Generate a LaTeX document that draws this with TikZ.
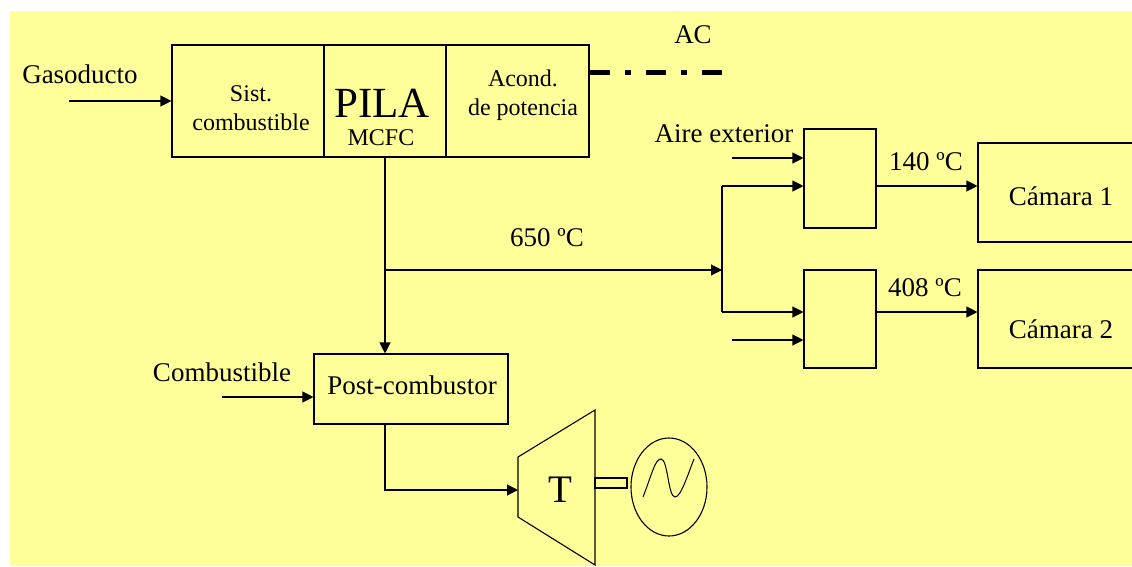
\documentclass[tikz,border=0pt]{standalone}
\usepackage{fontspec}
\setmainfont{Liberation Serif}
\usetikzlibrary{arrows.meta,shapes.geometric}
\definecolor{bgyellow}{RGB}{255,255,153}
\begin{document}
\begin{tikzpicture}[x=1pt,y=-1pt,
  box/.style={draw=black,line width=1.1pt,inner sep=0pt},
  conn/.style={line width=1.1pt,-{Triangle[length=11pt,width=11pt]}},
  wire/.style={line width=1.1pt},
  lbl/.style={anchor=base,inner sep=0pt,font=\fontsize{27}{32}\selectfont},
  slbl/.style={anchor=base,inner sep=0pt,font=\fontsize{24}{29}\selectfont}]
\useasboundingbox (0,0) rectangle (1132,566);
\clip (0,0) rectangle (1132,566);
\fill[white] (0,0) rectangle (1132,566);
\fill[bgyellow] (10,11) rectangle (1132,566);

% main stack
\node[box,minimum width=152pt,minimum height=112pt] (sist) at (248,101) {};
\node[box,minimum width=122pt,minimum height=112pt] (pila) at (385,101) {};
\node[box,minimum width=143pt,minimum height=112pt] (acond) at (517.5,101) {};
\node[slbl] (t1) at (251,101) {Sist.};
\node[slbl] (t2) at (251,130) {combustible};
\node[anchor=base,inner sep=0pt,font=\fontsize{43}{50}\selectfont] (t3) at (382,117) {PILA};
\node[slbl] (t4) at (381,145) {MCFC};
\node[slbl] (t5) at (523,86) {Acond.};
\node[slbl] (t6) at (523,115) {de potencia};

% gas input
\coordinate (gasin) at (69,101);
\draw[conn] (gasin) -- (sist.west);
\node[lbl] (gaslbl) at (80,83) {Gasoducto};

% AC output
\coordinate (acend) at (723,72.5);
\draw[line width=5pt,dash pattern=on 20pt off 15pt on 6pt off 15pt] (acond.east |- acend) -- (acend);
\node[lbl] (aclbl) at (693,43) {AC};

% post-combustor
\node[box,minimum width=194pt,minimum height=70pt] (post) at (411,389) {};
\node[lbl] (postlbl) at (412,394) {Post-combustor};
\draw[conn] (pila.south) -- (pila.south |- post.north);
\coordinate (combin) at (222,397);
\draw[conn] (combin) -- (combin -| post.west);
\node[lbl] (comblbl) at (222,381) {Combustible};

% branch to mixers
\coordinate (br) at (385,270);
\coordinate (split) at (722,270);
\draw[conn] (br) -- (split);
\node[lbl] (t650) at (547,246) {650 ºC};

\node[box,minimum width=72pt,minimum height=99pt] (mix1) at (840,178.5) {};
\node[box,minimum width=72pt,minimum height=98pt] (mix2) at (840,319) {};
\coordinate (s1) at (722,186);
\coordinate (s2) at (722,312);
\draw[wire] (s1) -- (s2);
\draw[conn] (s1) -- (s1 -| mix1.west);
\draw[conn] (s2) -- (s2 -| mix2.west);
\coordinate (air1) at (732,158);
\coordinate (air2) at (732,340);
\draw[conn] (air1) -- (air1 -| mix1.west);
\draw[conn] (air2) -- (air2 -| mix2.west);
\node[lbl] (airlbl) at (724,142) {Aire exterior};

% chambers
\node[box,minimum width=167pt,minimum height=99pt] (cam1) at (1061.5,192.5) {};
\node[box,minimum width=167pt,minimum height=98pt] (cam2) at (1061.5,319) {};
\node[lbl] (cam1lbl) at (1061,205) {Cámara 1};
\node[lbl] (cam2lbl) at (1061,338) {Cámara 2};
\draw[conn] (s1 -| mix1.east) -- (s1 -| cam1.west);
\draw[conn] (s2 -| mix2.east) -- (s2 -| cam2.west);
\node[lbl] (t140) at (926,170) {140 ºC};
\node[lbl] (t408) at (925,296) {408 ºC};

% turbine
\coordinate (tur1) at (518,457);
\coordinate (tur2) at (595,410);
\coordinate (tur3) at (595,565);
\coordinate (tur4) at (518,517);
\coordinate (turin) at (518,490);
\draw[wire,fill=bgyellow] (tur1) -- (tur2) -- (tur3) -- (tur4) -- cycle;
\node[anchor=base,inner sep=0pt,font=\fontsize{39}{44}\selectfont] (tlbl) at (560,502) {T};
\draw[conn] (pila.south |- post.south) |- (turin);

% shaft and generator
\node[box,minimum width=32pt,minimum height=10pt] (shaft) at (611,483) {};
\node[box,ellipse,minimum width=76pt,minimum height=98pt] (gen) at (669,487) {};
\draw[line width=1pt] (643,497) .. controls (652,474) and (655,459) .. (661,459)
  .. controls (668,459) and (668,497) .. (675,497)
  .. controls (681,497) and (688,474) .. (694,459);
\end{tikzpicture}
\end{document}
